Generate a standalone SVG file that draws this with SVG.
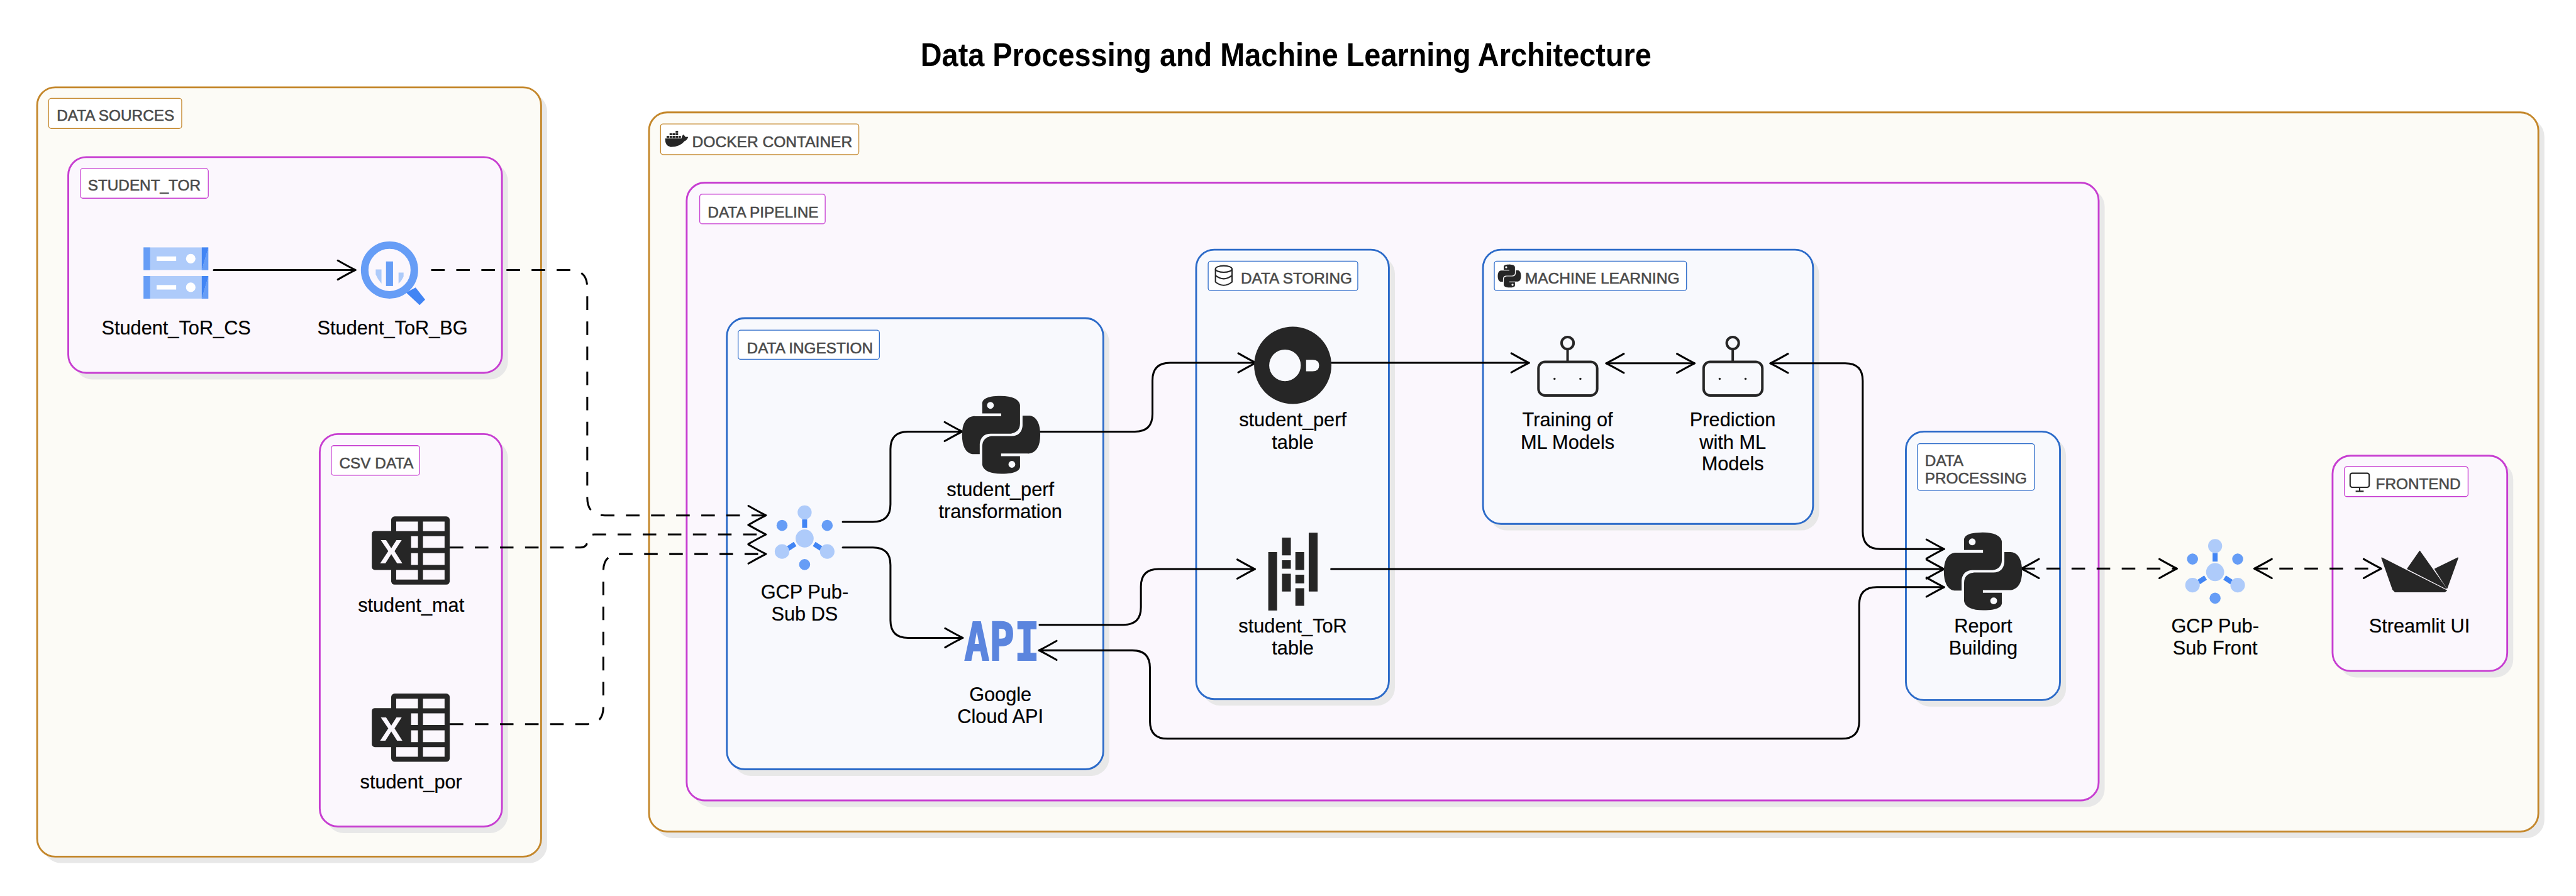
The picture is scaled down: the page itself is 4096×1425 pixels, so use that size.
<svg xmlns="http://www.w3.org/2000/svg" xmlns:xlink="http://www.w3.org/1999/xlink" width="4096" height="1425" viewBox="0 0 4096 1425">
<style>
text{font-family:"Liberation Sans",Arial,sans-serif}
.sh{fill:#e8e8e8}
.or{fill:#fcfbf6;stroke:#c4872b;stroke-width:3.6}
.mg{fill:#fbf7fd;stroke:#c73ed1;stroke-width:3.6}
.bl{fill:#f8f9fd;stroke:#2c6bc9;stroke-width:3.6}
.lb{fill:#fff;stroke-width:1.6}
.lo{stroke:#c4872b}.lm{stroke:#c73ed1}.lu{stroke:#2c6bc9}
.ct{font-size:30.500px;fill:#4a4a4a;stroke:#4a4a4a;stroke-width:.7}
.nt{font-size:38.500px;fill:#000;text-anchor:middle;stroke:#000;stroke-width:.3}
.dk{fill:#262626}
.c{fill:none;stroke:#000;stroke-width:3.800;stroke-linecap:round;marker-end:url(#a);marker-start:none}
.d{stroke-dasharray:27 23;stroke-linecap:butt}
.b{marker-start:url(#a)}
.ah{fill:none;stroke:#000;stroke-width:3.800;stroke-linecap:round;stroke-linejoin:round}
.l1{fill:#aecbfa}.l2{fill:#669df6}.l3{fill:#4285f4}
.ic{fill:none;stroke:#262626;stroke-width:2.600}
.rb{fill:none;stroke:#262626;stroke-width:5}
</style>
<defs>
<marker id="a" markerUnits="userSpaceOnUse" markerWidth="44" markerHeight="48" viewBox="-39 -24 44 48" refX="0" refY="0" orient="auto-start-reverse">
<path class="ah" d="M-35-19Q-14-7 0 0Q-14 7-35 19"/>
</marker>
<path id="py" d="M14.25.18l.9.2.73.26.59.3.45.32.34.34.25.34.16.33.1.3.04.26.02.2-.01.13V8.5l-.05.63-.13.55-.21.46-.26.38-.3.31-.33.25-.35.19-.35.14-.33.1-.3.07-.26.04-.21.02H8.77l-.69.05-.59.14-.5.22-.41.27-.33.32-.27.35-.2.36-.15.37-.1.35-.07.32-.04.27-.02.21v3.06H3.17l-.21-.03-.28-.07-.32-.12-.35-.18-.36-.26-.36-.36-.35-.46-.32-.59-.28-.73-.21-.88-.14-1.05-.05-1.23.06-1.22.16-1.04.24-.87.32-.71.36-.57.4-.44.42-.33.42-.24.4-.16.36-.1.32-.05.24-.01h.16l.06.01h8.16v-.83H6.18l-.01-2.75-.02-.37.05-.34.11-.31.17-.28.25-.26.31-.23.38-.2.44-.18.51-.15.58-.12.64-.1.71-.06.77-.04.84-.02 1.27.05zm-6.3 1.98l-.23.33-.08.41.08.41.23.34.33.22.41.09.41-.09.33-.22.23-.34.08-.41-.08-.41-.23-.33-.33-.22-.41-.09-.41.09zm13.09 3.95l.28.06.32.12.35.18.36.27.36.35.35.47.32.59.28.73.21.88.14 1.04.05 1.23-.06 1.23-.16 1.04-.24.86-.32.71-.36.57-.4.45-.42.33-.42.24-.4.16-.36.09-.32.05-.24.02-.16-.01h-8.22v.82h5.84l.01 2.76.02.36-.05.34-.11.31-.17.29-.25.25-.31.24-.38.2-.44.17-.51.15-.58.13-.64.09-.71.07-.77.04-.84.01-1.27-.04-1.07-.14-.9-.2-.73-.25-.59-.3-.45-.33-.34-.34-.25-.34-.16-.33-.1-.3-.04-.25-.02-.2.01-.13v-5.34l.05-.64.13-.54.21-.46.26-.38.3-.32.33-.24.35-.2.35-.14.33-.1.3-.06.26-.04.21-.02.13-.01h5.84l.69-.05.59-.14.5-.21.41-.28.33-.32.27-.35.2-.36.15-.36.1-.35.07-.32.04-.28.02-.21V6.07h2.09l.14.01zm-6.47 14.25l-.23.33-.08.41.08.41.23.33.33.23.41.08.41-.08.33-.23.23-.33.08-.41-.08-.41-.23-.33-.33-.23-.41-.08-.41.08z"/>
<g id="pubsub">
<rect class="l3" x="1598" y="1035" width="10" height="17"/>
<path d="M1570 1093L1584 1084M1636 1093L1622 1084" stroke="#4285f4" stroke-width="10" fill="none"/>
<circle class="l1" cx="1603" cy="1021" r="14"/>
<circle class="l1" cx="1603" cy="1073" r="18"/>
<circle class="l1" cx="1558" cy="1099" r="14.500"/>
<circle class="l1" cx="1648" cy="1099" r="14.500"/>
<circle class="l2" cx="1558" cy="1047" r="11"/>
<circle class="l2" cx="1648" cy="1047" r="11"/>
<circle class="l2" cx="1603" cy="1125" r="11"/>
</g>
<g id="excel">
<rect class="dk" x="779.300" y="1029" width="116.700" height="136" rx="7"/>
<rect class="dk" x="740.700" y="1058" width="90" height="77.700" rx="6"/>
<path fill="#fbf7fd" d="M789.300 1039.300h43.400v19h-43.400zM842.700 1039.300h43v19h-43zM819 1068.300h13.700v23.400H819zM842.700 1068.300h43v23.400h-43zM819 1102.300h13.700v23.400H819zM842.700 1102.300h43v23.400h-43zM789.300 1135.700h43.400v19.300h-43.400zM842.700 1135.700h43v19.300h-43z"/>
</g>
<g id="robot">
<rect class="rb" x="3065" y="721" width="117" height="67" rx="13"/>
<path class="rb" d="M3123 721V697" stroke-width="4"/>
<circle class="rb" cx="3123" cy="683.500" r="12" stroke-width="4"/>
<circle class="dk" cx="3097" cy="755" r="2.200"/>
<circle class="dk" cx="3148.500" cy="755" r="2.200"/>
</g>
</defs>
<g transform="scale(.79813)">
<text id="title" x="2562" y="131" font-size="64" font-weight="700" text-anchor="middle" fill="#000" textLength="1456" lengthAdjust="spacingAndGlyphs">Data Processing and Machine Learning Architecture</text>

<g id="cluster-data-sources">
<rect class="sh" x="86" y="186" width="1004" height="1534" rx="36"/>
<rect class="or" x="74" y="174" width="1004" height="1533" rx="36"/>
<rect class="lb lo" x="97" y="196" width="265" height="60" rx="5"/>
<text class="ct" x="113" y="241">DATA SOURCES</text>
</g>
<g id="cluster-student-tor">
<rect class="sh" x="148" y="325" width="864" height="431" rx="36"/>
<rect class="mg" x="136" y="313" width="864" height="430" rx="36"/>
<rect class="lb lm" x="160" y="336" width="255" height="59" rx="5"/>
<text class="ct" x="175" y="380">STUDENT_TOR</text>
</g>
<g id="cluster-csv-data">
<rect class="sh" x="649" y="877" width="363" height="783" rx="36"/>
<rect class="mg" x="637" y="865" width="363" height="782" rx="36"/>
<rect class="lb lm" x="660" y="888" width="176" height="59" rx="5"/>
<text class="ct" x="676" y="934">CSV DATA</text>
</g>
<g id="cluster-docker">
<rect class="sh" x="1305" y="236" width="3764" height="1434" rx="36"/>
<rect class="or" x="1293" y="224" width="3764" height="1433" rx="36"/>
<rect class="lb lo" x="1316" y="247" width="395" height="61" rx="5"/>
<g class="dk">
<path d="M1325 276H1357.700Q1358 271 1361 268Q1364 270 1366 273Q1369 272 1371 273Q1369 279 1364 281Q1355 293 1336 293Q1325 291 1325 276Z"/>
<path d="M1328 270.500h5v4.500h-5zM1334 270.500h5v4.500h-5zM1340 270.500h5v4.500h-5zM1346 270.500h5v4.500h-5zM1352 270.500h4.500v4.500h-4.500zM1334 265.500h5v4h-5zM1340 265.500h5v4h-5zM1346 265.500h5v4h-5zM1346 260.500h5v4h-5z"/>
</g>
<text class="ct" x="1379" y="293" textLength="319" lengthAdjust="spacingAndGlyphs">DOCKER CONTAINER</text>
</g>
<g id="cluster-data-pipeline">
<rect class="sh" x="1380" y="376" width="2813" height="1232" rx="36"/>
<rect class="mg" x="1368" y="364" width="2813" height="1231" rx="36"/>
<rect class="lb lm" x="1394" y="387" width="250" height="59" rx="5"/>
<text class="ct" x="1410" y="433">DATA PIPELINE</text>
</g>
<g id="cluster-data-ingestion">
<rect class="sh" x="1460" y="646" width="750" height="900" rx="36"/>
<rect class="bl" x="1448" y="634" width="750" height="899" rx="36"/>
<rect class="lb lu" x="1470.500" y="658" width="281.500" height="58" rx="5"/>
<text class="ct" x="1488" y="704">DATA INGESTION</text>
</g>
<g id="cluster-data-storing">
<rect class="sh" x="2395" y="510" width="384" height="896" rx="36"/>
<rect class="bl" x="2383" y="497.500" width="384" height="895.500" rx="36"/>
<rect class="lb lu" x="2407" y="520.500" width="298" height="58.500" rx="5"/>
<g class="ic"><ellipse cx="2438" cy="536" rx="16.500" ry="6.500"/><path d="M2421.500 536V562Q2438 575 2454.500 562V536M2421.500 549Q2438 562 2454.500 549"/></g>
<text class="ct" x="2472" y="565">DATA STORING</text>
</g>
<g id="cluster-machine-learning">
<rect class="sh" x="2966.500" y="510" width="657.500" height="547" rx="36"/>
<rect class="bl" x="2954.500" y="497.500" width="657.500" height="546.500" rx="36"/>
<rect class="lb lu" x="2977" y="520.500" width="383" height="58.500" rx="5"/>
<use xlink:href="#py" href="#py" class="dk" transform="translate(2984 527) scale(1.917)"/>
<text class="ct" x="3038" y="565" textLength="308" lengthAdjust="spacingAndGlyphs">MACHINE LEARNING</text>
</g>
<g id="cluster-data-processing">
<rect class="sh" x="3809" y="872" width="307" height="536" rx="36"/>
<rect class="bl" x="3797" y="860" width="307" height="535" rx="36"/>
<rect class="lb lu" x="3820" y="884" width="233" height="93" rx="5"/>
<text class="ct" x="3835" y="928">DATA</text>
<text class="ct" x="3835" y="963">PROCESSING</text>
</g>
<g id="cluster-frontend">
<rect class="sh" x="4659" y="920" width="348" height="430" rx="36"/>
<rect class="mg" x="4647" y="908" width="348" height="429" rx="36"/>
<rect class="lb lm" x="4670.500" y="930" width="246.500" height="59.500" rx="5"/>
<g class="ic"><rect x="4682" y="943" width="38" height="28" rx="4"/><path d="M4701 971V978M4693 979H4709"/></g>
<text class="ct" x="4733" y="975">FRONTEND</text>
</g>

<g id="connectors">
<path class="c" d="M426 538H708"/>
<path class="c d" d="M859 538H1135Q1170 538 1170 573V992Q1170 1027 1205 1027H1526"/>
<path class="c d" d="M896 1091H1156Q1170 1091 1170 1078Q1170 1065 1184 1065H1526"/>
<path class="c d" d="M896 1443H1168Q1202 1443 1202 1409V1138Q1202 1104 1236 1104H1526"/>
<path class="c" d="M1679 1040H1739Q1774 1040 1774 1005V895Q1774 860 1809 860H1917"/>
<path class="c" d="M1679 1091H1739Q1774 1091 1774 1126V1236Q1774 1271 1809 1271H1918"/>
<path class="c" d="M2072 860H2261Q2296 860 2296 825V758Q2296 723 2331 723H2502"/>
<path class="c" d="M2071 1245H2238Q2273 1245 2273 1210V1169Q2273 1134 2308 1134H2500"/>
<path class="c" d="M2653 723H3046"/>
<path class="c b" d="M3200 724H3376"/>
<path class="c b" d="M3527 724H3676Q3711 724 3711 759V1059Q3711 1094 3746 1094H3873"/>
<path class="c" d="M2652 1134H3873"/>
<path class="c b" d="M2070 1296H2256Q2291 1296 2291 1331V1437Q2291 1472 2326 1472H3669Q3704 1472 3704 1437V1205Q3704 1170 3739 1170H3873"/>
<path class="c d b" d="M4027 1133H4337"/>
<path class="c d b" d="M4491 1133H4744"/>
</g>

<g id="node-student-tor-cs">
<rect class="l1" x="286" y="493" width="129" height="45"/><rect class="l1" x="286" y="550" width="129" height="45"/>
<path class="l2" d="M286 493h13v45h-13zM286 550h13v45h-13z"/>
<path class="l3" d="M402 493h13v1l-13 44zM402 550h13v1l-13 44z"/>
<path class="l2" d="M415 494v44h-13zM415 551v44h-13z"/>
<rect x="312" y="511" width="39" height="9" fill="#fff"/><rect x="312" y="568" width="39" height="9" fill="#fff"/>
<circle cx="380" cy="515.500" r="9.500" fill="#fff"/><circle cx="380" cy="572.500" r="9.500" fill="#fff"/>
<text class="nt" x="351" y="666">Student_ToR_CS</text>
</g>
<g id="node-student-tor-bg">
<path class="l3" d="M809 583L836 608L847 597L828 573Z"/>
<circle cx="776" cy="538" r="49.500" fill="#fbf7fd" stroke="#669df6" stroke-width="15"/>
<path class="l1" d="M748.500 537H760V565Q752 556 748.500 547ZM794 543H804V551Q800 560 794 565Z"/>
<rect class="l2" x="769" y="521" width="14" height="49"/>
<text class="nt" x="782" y="666">Student_ToR_BG</text>
</g>
<g id="node-student-mat">
<use xlink:href="#excel" href="#excel"/>
<text x="779.300" y="1122.700" font-size="68" font-weight="700" fill="#fbf7fd" text-anchor="middle">X</text>
<text class="nt" x="819" y="1219">student_mat</text>
</g>
<g id="node-student-por">
<use xlink:href="#excel" href="#excel" transform="translate(0 353)"/>
<text x="779.300" y="1475.700" font-size="68" font-weight="700" fill="#fbf7fd" text-anchor="middle">X</text>
<text class="nt" x="819" y="1571">student_por</text>
</g>
<g id="node-pubsub-ds">
<use xlink:href="#pubsub" href="#pubsub"/>
<text class="nt" x="1603" y="1193">GCP Pub-</text>
<text class="nt" x="1603" y="1237">Sub DS</text>
</g>
<g id="node-student-perf-transformation">
<use xlink:href="#py" href="#py" class="dk" transform="translate(1917 789) scale(6.46)"/>
<text class="nt" x="1993" y="988">student_perf</text>
<text class="nt" x="1993" y="1032">transformation</text>
</g>
<g id="node-google-cloud-api">
<text x="1921" y="1316" font-size="105" font-weight="700" fill="#5b85de" stroke="#5b85de" stroke-width="2.500" style="font-family:'DejaVu Sans Mono',monospace" textLength="150" lengthAdjust="spacingAndGlyphs">API</text>
<text class="nt" x="1993" y="1397">Google</text>
<text class="nt" x="1993" y="1441">Cloud API</text>
</g>
<g id="node-student-perf-table">
<circle class="dk" cx="2575.500" cy="728" r="77"/>
<circle cx="2560" cy="728" r="31.500" fill="#f8f9fd"/>
<path fill="#f8f9fd" d="M2602 717H2615Q2628 717 2628 728Q2628 740 2615 740H2602Z"/>
<text class="nt" x="2575.500" y="850">student_perf</text>
<text class="nt" x="2575.500" y="894">table</text>
</g>
<g id="node-student-tor-table">
<path class="dk" d="M2526.700 1100h17.600v116.700h-17.600zM2554 1071.300h17.700v35.400H2554zM2554 1116.300h17.700v17H2554zM2554 1143.300h17.700v35.400H2554zM2580.700 1100h17.600v35.700h-17.600zM2580.700 1145.300h17.600v17h-17.600zM2580.700 1172h17.600v35.300h-17.600zM2607.300 1061.700H2625v117h-17.700z"/>
<text class="nt" x="2575.500" y="1260">student_ToR</text>
<text class="nt" x="2575.500" y="1304">table</text>
</g>
<g id="node-training">
<use xlink:href="#robot" href="#robot"/>
<text class="nt" x="3123" y="850">Training of</text>
<text class="nt" x="3123" y="894">ML Models</text>
</g>
<g id="node-prediction">
<use xlink:href="#robot" href="#robot" transform="translate(329 0)"/>
<text class="nt" x="3452" y="850">Prediction</text>
<text class="nt" x="3452" y="894">with ML</text>
<text class="nt" x="3452" y="937">Models</text>
</g>
<g id="node-report-building">
<use xlink:href="#py" href="#py" class="dk" transform="translate(3873 1061) scale(6.46)"/>
<text class="nt" x="3951" y="1260">Report</text>
<text class="nt" x="3951" y="1304">Building</text>
</g>
<g id="node-pubsub-front">
<use xlink:href="#pubsub" href="#pubsub" transform="translate(2810 67)"/>
<text class="nt" x="4413" y="1260">GCP Pub-</text>
<text class="nt" x="4413" y="1304">Sub Front</text>
</g>
<g id="node-streamlit">
<g class="dk" stroke="#262626" stroke-width="2" stroke-linejoin="round">
<path d="M4745 1111.700L4874 1176.700L4870 1179.300H4771.700L4767.300 1175Z"/>
<path d="M4820.700 1098.300L4796.500 1133.300L4873 1172.500Z"/>
<path d="M4896.700 1111.700L4851 1134L4875 1171.700Z"/>
</g>
<text class="nt" x="4820" y="1260">Streamlit UI</text>
</g>
</g>
</svg>
